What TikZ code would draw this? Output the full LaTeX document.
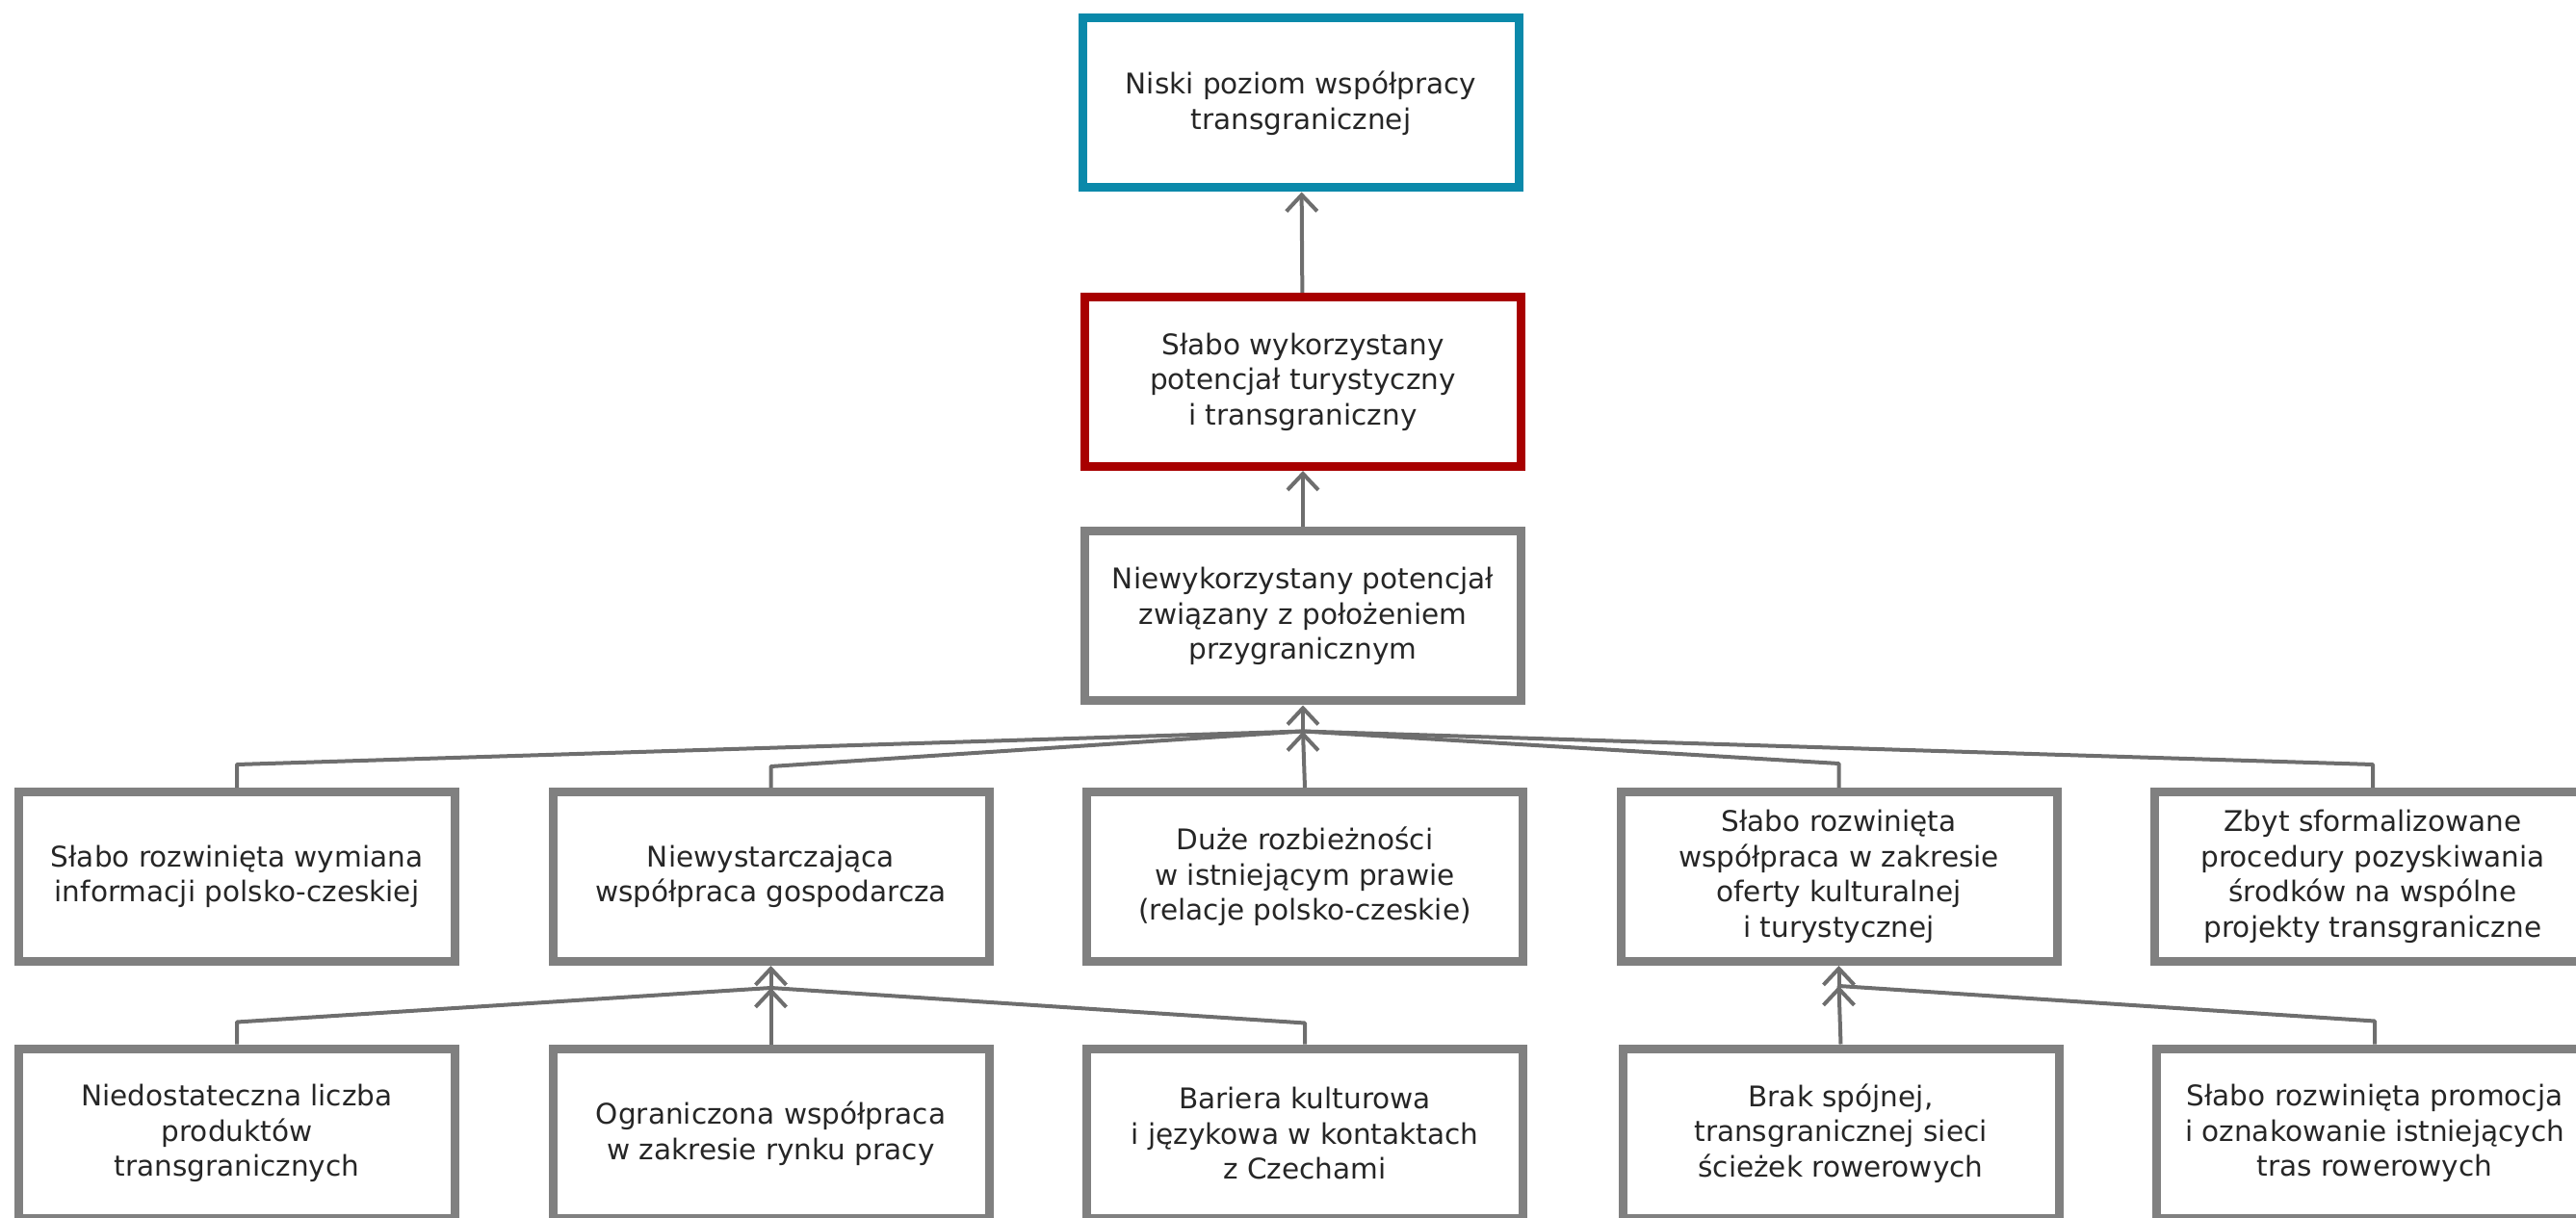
\documentclass[tikz,border=0pt]{standalone}
\usepackage{fontspec}
\setmainfont{DejaVu Sans}
\usepackage{tikz}
\usetikzlibrary{arrows.meta,calc,positioning}
\definecolor{frameblue}{HTML}{0A89AA}
\definecolor{framered}{HTML}{A80000}
\definecolor{framegray}{HTML}{808080}
\definecolor{linegray}{HTML}{6E6E6E}
\tikzstyle{arrow} = [draw, linegray, line width=0.04cm, -{Straight Barb[length=0.17cm,width=0.32cm]}]
\tikzstyle{conn} = [draw, linegray, line width=0.04cm, line join=round]
\tikzstyle{box} = [rectangle, draw=framegray, line width=0.09cm, minimum width=4.53cm, minimum height=1.76cm, inner sep=0pt, align=center, text=black!85, font={\fontsize{8.4pt}{10.4pt}\selectfont}]

\begin{document}
\begin{tikzpicture}[
      auto,
      node distance = 5.545cm
    ]
      \useasboundingbox (0,0) rectangle (26.75,-12.65);
      \clip (0,0) rectangle (26.75,-12.65);

      \node[box, draw=frameblue] (goal) at (13.51,-1.07)  {Niski poziom współpracy\\transgranicznej};
      \node[box, draw=framered]  (tour) at (13.53,-3.965) {Słabo wykorzystany\\potencjał turystyczny\\i transgraniczny};
      \node[box]                 (pot)  at (13.53,-6.40)  {Niewykorzystany potencjał\\związany z położeniem\\przygranicznym};

      \node[box] (info)  at (2.46,-9.105)  {Słabo rozwinięta wymiana\\informacji polsko-czeskiej};
      \node[box] (gosp)  [right of=info]   {Niewystarczająca\\współpraca gospodarcza};
      \node[box] (prawo) [right of=gosp]   {Duże rozbieżności\\w istniejącym prawie\\(relacje polsko-czeskie)};
      \node[box] (kult)  [right of=prawo]  {Słabo rozwinięta\\współpraca w zakresie\\oferty kulturalnej\\i turystycznej};
      \node[box] (proc)  [right of=kult]   {Zbyt sformalizowane\\procedury pozyskiwania\\środków na wspólne\\projekty transgraniczne};

      \node[box] (prod)    at (2.46,-11.77)  {Niedostateczna liczba\\produktów\\transgranicznych};
      \node[box] (rynek)   [right of=prod]   {Ograniczona współpraca\\w zakresie rynku pracy};
      \node[box] (bariera) [right of=rynek]  {Bariera kulturowa\\i językowa w kontaktach\\z Czechami};
      \node[box] (rower)   [right of=bariera, xshift=0.02cm] {Brak spójnej,\\transgranicznej sieci\\ścieżek rowerowych};
      \node[box] (promo)   [right of=rower]  {Słabo rozwinięta promocja\\i oznakowanie istniejących\\tras rowerowych};

      \coordinate[below=0.27cm of pot]  (jPot);
      \coordinate[below=0.23cm of gosp] (jGosp);
      \coordinate[below=0.21cm of kult] (jKult);

      \path[arrow] (tour) edge (goal);
      \path[arrow] (pot)  edge (tour);
      \path[arrow] (jPot) edge (pot);
      \draw[conn] (info.north)  -- ++(0,0.24) -- (jPot);
      \draw[conn] (gosp.north)  -- ++(0,0.22) -- (jPot);
      \draw[conn] (prawo.north) -- (jPot);
      \draw[conn] (kult.north)  -- ++(0,0.25) -- (jPot);
      \draw[conn] (proc.north)  -- ++(0,0.24) -- (jPot);

      \path[arrow] (jGosp) edge (gosp);
      \draw[conn] (prod.north)    -- ++(0,0.23) -- (jGosp);
      \draw[conn] (rynek.north)   -- (jGosp);
      \draw[conn] (bariera.north) -- ++(0,0.22) -- (jGosp);

      \path[arrow] (jKult) edge (kult);
      \draw[conn] (rower.north) -- (jKult);
      \draw[conn] (promo.north) -- ++(0,0.24) -- (jKult);
    \end{tikzpicture}
\end{document}
